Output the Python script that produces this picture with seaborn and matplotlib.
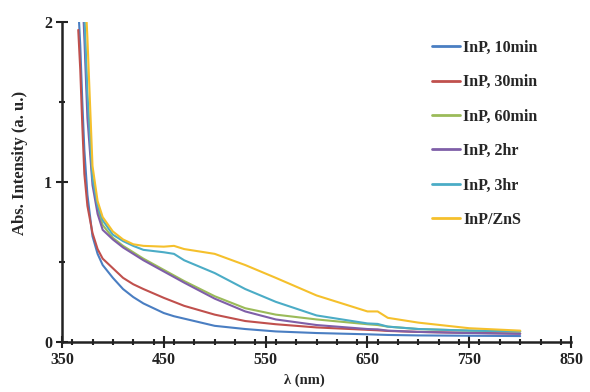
import numpy as np
import pandas as pd
import seaborn as sns
import matplotlib.pyplot as plt
import matplotlib.ticker as mticker

# wavelength grid (nm)
wavelength = [366, 368, 370, 372, 375, 380, 385, 390, 400, 410, 420, 430, 450,
              460, 470, 500, 530, 560, 600, 650, 660, 670, 700, 750, 800]

inp_10min = [2.10, 1.85, 1.50, 1.20, 0.92, 0.66, 0.55, 0.48, 0.40, 0.33, 0.28, 0.24, 0.18,
             0.16, 0.145, 0.10, 0.08, 0.065, 0.055, 0.047, 0.045, 0.043, 0.040, 0.038, 0.036]
inp_30min = [1.95, 1.70, 1.35, 1.05, 0.85, 0.68, 0.58, 0.52, 0.46, 0.40, 0.36, 0.33, 0.275,
             0.25, 0.225, 0.17, 0.13, 0.11, 0.09, 0.075, 0.072, 0.068, 0.062, 0.056, 0.052]
inp_60min = [2.60, 2.40, 2.25, 2.00, 1.50, 1.02, 0.83, 0.73, 0.65, 0.60, 0.56, 0.52, 0.45,
             0.415, 0.38, 0.285, 0.21, 0.17, 0.14, 0.11, 0.105, 0.095, 0.08, 0.07, 0.065]
inp_2hr = [2.60, 2.40, 2.20, 1.90, 1.40, 0.98, 0.80, 0.70, 0.64, 0.59, 0.55, 0.51, 0.44,
           0.405, 0.37, 0.27, 0.19, 0.14, 0.105, 0.08, 0.078, 0.07, 0.062, 0.055, 0.05]
inp_3hr = [2.60, 2.40, 2.25, 2.05, 1.55, 1.02, 0.85, 0.76, 0.67, 0.63, 0.60, 0.575, 0.56,
           0.55, 0.51, 0.43, 0.33, 0.25, 0.165, 0.115, 0.112, 0.095, 0.08, 0.07, 0.065]
inp_zns = [2.60, 2.50, 2.40, 2.30, 1.90, 1.10, 0.88, 0.78, 0.69, 0.64, 0.61, 0.60, 0.595,
           0.60, 0.58, 0.55, 0.48, 0.40, 0.29, 0.19, 0.19, 0.15, 0.12, 0.085, 0.07]

labels = ["InP, 10min", "InP, 30min", "InP, 60min", "InP, 2hr", "InP, 3hr", "InP/ZnS"]
colors = ["#4A7EC2", "#C0504D", "#9BBB59", "#7F5FA8", "#4BACC6", "#F5C02C"]
series = [inp_10min, inp_30min, inp_60min, inp_2hr, inp_3hr, inp_zns]
x_ticks = [350, 450, 550, 650, 750, 850]

df = pd.concat(
    [pd.DataFrame({"wl": wavelength, "abs": s, "sample": lab}) for s, lab in zip(series, labels)]
)

sns.set_style("ticks")
plt.rcParams["font.family"] = ["Liberation Serif", "DejaVu Serif"]
plt.rcParams["font.weight"] = "bold"

fig = plt.figure(figsize=(5.9, 3.92), dpi=100)
ax = fig.add_axes([0.105, 0.128, 0.863, 0.816])

sns.lineplot(data=df, x="wl", y="abs", hue="sample", palette=colors,
             linewidth=1.5, ax=ax, sort=False)

ax.set_xlim(350, 850)
ax.set_ylim(0, 2)
ax.set_xticks(x_ticks)
ax.xaxis.set_minor_locator(mticker.MultipleLocator(20))
ax.yaxis.set_major_locator(mticker.MultipleLocator(1))
ax.yaxis.set_minor_locator(mticker.MultipleLocator(0.5))
ax.tick_params(which="both", direction="inout", width=1.5, color="#222222")
ax.tick_params(which="major", length=8, labelsize=11.5, pad=3)
ax.tick_params(which="minor", length=5)
for lab in ax.get_xticklabels() + ax.get_yticklabels():
    lab.set_fontweight("bold")
    lab.set_color("#222222")

sns.despine(ax=ax)
for sp in ["left", "bottom"]:
    ax.spines[sp].set_linewidth(1.8)
    ax.spines[sp].set_color("#222222")

ax.set_xlabel("λ (nm)", fontsize=10.5, fontweight="bold")
ax.set_ylabel("Abs. Intensity (a. u.)", fontsize=12, fontweight="bold")
ax.xaxis.set_label_coords(0.477, -0.1)
ax.yaxis.set_label_coords(-0.066, 0.56)

leg = ax.legend(loc="upper left", bbox_to_anchor=(0.732, 0.898),
                bbox_transform=fig.transFigure, frameon=False, borderpad=0,
                borderaxespad=0, handlelength=1.75, handletextpad=0.2,
                labelspacing=1.15, prop={"weight": "bold", "size": 11.5})
for line in leg.get_lines():
    line.set_linewidth(2)

fig.savefig("out.png", dpi=100)
